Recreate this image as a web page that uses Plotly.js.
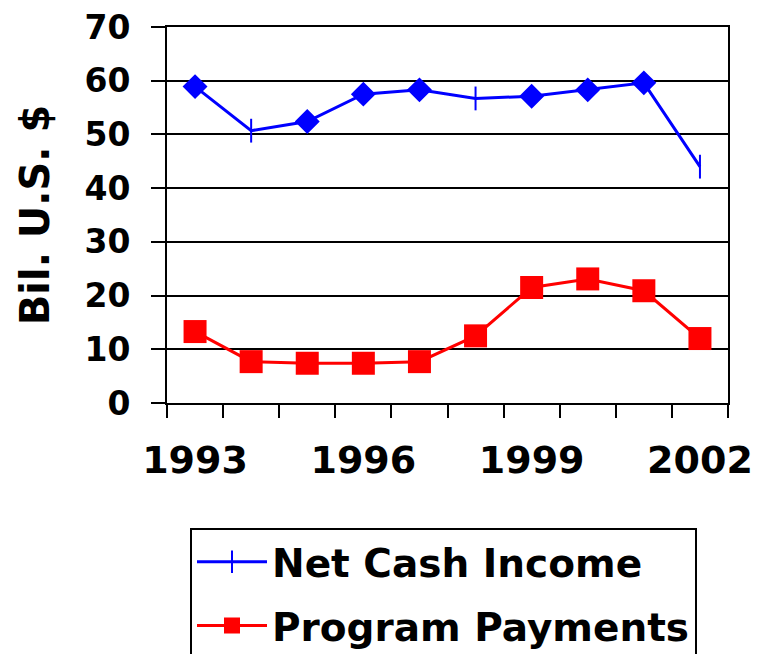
<!DOCTYPE html>
<html>
<head>
<meta charset="utf-8">
<script src="https://cdn.plot.ly/plotly-3.0.1.min.js"></script>
<style>html,body{margin:0;padding:0;background:#fff;}#chart{width:759px;height:654px;}</style>
</head>
<body>
<div id="chart"></div>
<script>
const years = ['1993','1994','1995','1996','1997','1998','1999','2000','2001','2002'];
const yearLabels = ['1993','','','1996','','','1999','','','2002'];
const netCashIncome = [58.9, 50.7, 52.4, 57.5, 58.3, 56.7, 57.1, 58.3, 59.6, 44.0];
const programPayments = [13.3, 7.7, 7.4, 7.4, 7.7, 12.5, 21.5, 23.1, 20.9, 12.0];
const netCashSymbols = ['diamond','line-ns','diamond','diamond','diamond','line-ns','diamond','diamond','diamond','line-ns'];
const seriesNames = ['Net Cash Income', 'Program Payments'];

const FONT = 'DejaVu Sans, Verdana, sans-serif';
const BLUE = '#0000ff', RED = '#ff0000';

const traces = [
  {
    x: years, y: netCashIncome, type: 'scatter', mode: 'lines+markers',
    name: seriesNames[0], showlegend: false, legendgroup: 'a',
    line: {color: BLUE, width: 3},
    marker: {symbol: netCashSymbols, size: 17, color: BLUE, line: {color: BLUE, width: 2}}
  },
  {
    x: [null], y: [null], type: 'scatter', mode: 'lines+markers',
    name: seriesNames[0], legendgroup: 'a',
    line: {color: BLUE, width: 3},
    marker: {symbol: 'line-ns', size: 17, color: BLUE, line: {color: BLUE, width: 2}}
  },
  {
    x: years, y: programPayments, type: 'scatter', mode: 'lines+markers',
    name: seriesNames[1], legendgroup: 'b',
    line: {color: RED, width: 3},
    marker: {symbol: 'square', size: 23, color: RED}
  }
];

const layout = {
  width: 759, height: 654,
  margin: {l: 167, r: 31, t: 27, b: 251, autoexpand: false},
  paper_bgcolor: '#fff', plot_bgcolor: '#fff',
  font: {family: FONT, color: '#000'},
  showlegend: true,
  xaxis: {
    type: 'category',
    tickvals: years, ticktext: yearLabels,
    tickson: 'boundaries', tickangle: 0,
    ticks: 'outside', ticklen: 13, tickwidth: 2, tickcolor: '#000',
    showline: true, linecolor: '#000', linewidth: 2, mirror: true,
    showgrid: false, zeroline: false,
    tickfont: {family: FONT, size: 38, color: '#000', weight: 'bold'},
    ticklabelstandoff: 22,
    range: [-0.5, 9.5], fixedrange: true
  },
  yaxis: {
    range: [0, 70], dtick: 10, tick0: 0,
    ticks: 'outside', ticklen: 14, tickwidth: 2, tickcolor: '#000',
    showline: true, linecolor: '#000', linewidth: 2, mirror: true,
    showgrid: true, gridcolor: '#000', gridwidth: 2, zeroline: false,
    tickfont: {family: FONT, size: 33, color: '#000', weight: 'bold'},
    ticklabelstandoff: 14,
    title: {text: 'Bil. U.S. $', font: {family: FONT, size: 40, color: '#000', weight: 'bold'}, standoff: 22},
    fixedrange: true
  },
  legend: {
    x: 0.041, y: -0.332, xanchor: 'left', yanchor: 'top',
    bordercolor: '#000', borderwidth: 2, bgcolor: '#fff',
    font: {family: FONT, size: 39, color: '#000', weight: 'bold'},
    traceorder: 'grouped', tracegroupgap: 10, itemwidth: 70
  }
};

Plotly.newPlot('chart', traces, layout, {displayModeBar: false, staticPlot: true});
</script>
</body>
</html>
